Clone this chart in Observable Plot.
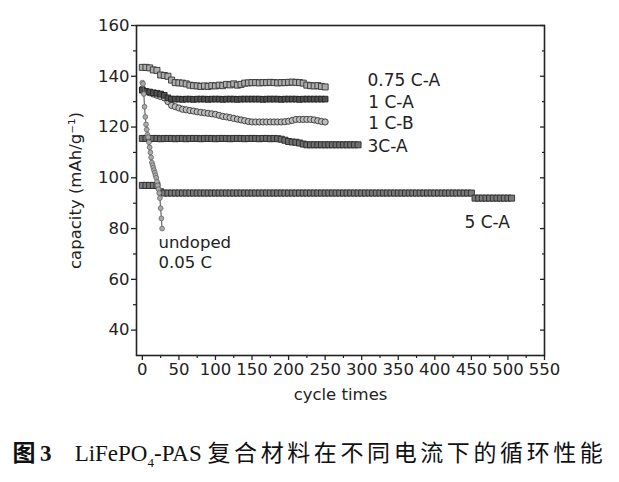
<!DOCTYPE html>
<html><head><meta charset="utf-8">
<script src="https://cdn.jsdelivr.net/npm/d3@7"></script>
<script src="https://cdn.jsdelivr.net/npm/@observablehq/plot@0.6"></script>
<style>
body{margin:0;background:#fff;width:619px;}
#chart svg{display:block;}
#cap{height:62px;box-sizing:border-box;padding-top:20px;text-align:center;white-space:nowrap;
  font-family:"Liberation Serif","Noto Sans CJK SC",serif;font-size:23px;line-height:28px;color:#111;}
#cap .cjk{letter-spacing:3.6px;}
#cap sub{font-size:13px;line-height:0;}
</style></head><body>
<div id="chart"></div>
<div id="cap"><b>图&thinsp;3</b>&nbsp;&nbsp;&nbsp;&nbsp;LiFePO<sub>4</sub>-PAS <span class="cjk">复合材料在不同电流下的循环性能</span></div>
<script>
// Tick values
const xTicks = [0,50,100,150,200,250,300,350,400,450,500,550];
const xMinor = [25,75,125,175,225,275,325,375,425,475,525];
const yTicks = [40,60,80,100,120,140,160];
const yMinor = [50,70,90,110,130,150];

// Series: cycle number (every 5th cycle) and discharge capacity (mAh/g)
const cycles075 = d3.range(0, 251, 5);
const cap075 = [143.5,143.5,143.3,142.5,142.3,140.5,140.3,140,138.5,137.5,
  137.4,137.3,137,136.5,136.3,136.2,136,136.2,136,136.3,
  136.2,136.5,136.3,136.8,136.6,137,136.5,136.8,137.3,137.4,
  137.5,137.5,137.4,137.5,137.5,137.6,137.5,137.4,137.5,137.5,
  137.6,137.7,137.6,137.5,137.3,136.5,136.3,136.2,136.3,136,
  135.8];

const cycles1A = d3.range(0, 251, 5);
const cap1A = [134.5,134,133.8,133.5,133.3,133,132.5,131.5,131,131,
  131,130.9,131,131,130.9,131,131,131,130.9,131,
  131,131,130.9,131,131,131,130.9,131,131,131,
  131,131,131,130.9,131,131,131,131,130.9,131,
  131,131,131,130.9,131,131,131,131,131,131,
  131];

const cycles1B = d3.range(0, 251, 5);
const cap1B = [135,134,133.5,133,132.5,132,131.5,130,128.5,128,
  127.5,127,126.8,126.5,126.3,126,125.8,125.6,125.4,125.2,
  125,124.6,124.2,124,123.7,123.4,123.1,122.8,122.5,122.2,
  122,122,122,122,122,122,122,122,122,122.1,
  122.3,122.6,123,123,123,123,123,122.8,122.5,122.2,
  122];

const cycles3A = d3.range(0, 296, 5);
const cap3A = [115.5,115.5,115.4,115.5,115.5,115.4,115.5,115.5,115.5,115.4,
  115.5,115.5,115.4,115.5,115.5,115.5,115.4,115.5,115.5,115.5,
  115.4,115.5,115.5,115.5,115.4,115.5,115.5,115.5,115.4,115.5,
  115.5,115.5,115.4,115.5,115.5,115.4,115.5,115.4,115.2,114.8,
  114.3,114.1,114,113.7,113.3,113,113,113,113,113,
  113,113,113,113,113,113,113,113,113,113];

const cycles5A = d3.range(0, 506, 5);
const cap5A = [97,97,97,97,97,94.5,94,94,94,94,
  94,94,94,94,94,94,94,94,94,94,
  94,94,94,94,94,94,94,94,94,94,
  94,94,94,94,94,94,94,94,94,94,
  94,94,94,94,94,94,94,94,94,94,
  94,94,94,94,94,94,94,94,94,94,
  94,94,94,94,94,94,94,94,94,94,
  94,94,94,94,94,94,94,94,94,94,
  94,94,94,94,94,94,94,94,94,94,
  94,92,92,92,92,92,92,92,92,92,
  92,92];

const cyclesUndoped = [0,1,2,3,4,5,6,7,8,9,10,11,12,13,14,15,16,17,18,19,20,21,22,23,24,25,26,27];
const capUndoped = [137.5,137,133,128,124,121,119,117,116,114,112,110,108,106,105,104,103,102,101,100,98.5,97,95.5,94,92,88,84,80];

const rows = (cs, vs) => cs.slice(0, vs.length).map((c, i) => ({cycle: c, cap: vs[i]}));
const d075 = rows(cycles075, cap075);
const d1A = rows(cycles1A, cap1A);
const d1B = rows(cycles1B, cap1B);
const d3A = rows(cycles3A, cap3A);
const d5A = rows(cycles5A, cap5A);
const dU = rows(cyclesUndoped, capUndoped);

const ink = "#222";
const labelFont = 17;

const chart = Plot.plot({
  width: 619,
  height: 420,
  marginLeft: 136,
  marginRight: 75,
  marginTop: 25,
  marginBottom: 65,
  style: {fontFamily: "DejaVu Sans", fontSize: "16.5px", color: ink, background: "#fff"},
  x: {domain: [-8, 550]},
  y: {domain: [30, 160]},
  marks: [
    // series
    Plot.line(d5A, {x: "cycle", y: "cap", stroke: "#333", strokeWidth: 1}),
    Plot.dot(d5A, {x: "cycle", y: "cap", symbol: "square", r: 3.4, fill: "#7a7a7a", stroke: "#2a2a2a", strokeWidth: 0.9}),
    Plot.line(d3A, {x: "cycle", y: "cap", stroke: "#333", strokeWidth: 1}),
    Plot.dot(d3A, {x: "cycle", y: "cap", symbol: "square", r: 3.4, fill: "#6e6e6e", stroke: "#2a2a2a", strokeWidth: 0.9}),
    Plot.line(d1B, {x: "cycle", y: "cap", stroke: "#444", strokeWidth: 1}),
    Plot.dot(d1B, {x: "cycle", y: "cap", r: 3.1, fill: "#bdbdbd", stroke: "#383838", strokeWidth: 0.9}),
    Plot.line(d1A, {x: "cycle", y: "cap", stroke: "#333", strokeWidth: 1}),
    Plot.dot(d1A, {x: "cycle", y: "cap", symbol: "square", r: 3.2, fill: "#505050", stroke: "#222", strokeWidth: 0.9}),
    Plot.line(d075, {x: "cycle", y: "cap", stroke: "#444", strokeWidth: 1}),
    Plot.dot(d075, {x: "cycle", y: "cap", symbol: "square", r: 3.4, fill: "#adadad", stroke: "#333", strokeWidth: 0.9}),
    Plot.line(dU, {x: "cycle", y: "cap", stroke: "#666", strokeWidth: 1.2}),
    Plot.dot(dU, {x: "cycle", y: "cap", r: 2.4, fill: "#aaa", stroke: "#666", strokeWidth: 0.8}),
    // annotations
    Plot.text(["0.75 C-A"], {x: 308, y: 138.3, text: d => d, textAnchor: "start", fontSize: labelFont, fill: ink}),
    Plot.text(["1 C-A"], {x: 309, y: 129.8, text: d => d, textAnchor: "start", fontSize: labelFont, fill: ink}),
    Plot.text(["1 C-B"], {x: 309, y: 121.3, text: d => d, textAnchor: "start", fontSize: labelFont, fill: ink}),
    Plot.text(["3C-A"], {x: 308, y: 112.4, text: d => d, textAnchor: "start", fontSize: labelFont, fill: ink}),
    Plot.text(["5 C-A"], {x: 440.6, y: 82.4, text: d => d, textAnchor: "start", fontSize: labelFont, fill: ink}),
    Plot.text(["undoped"], {x: 22, y: 74.3, text: d => d, textAnchor: "start", fontSize: 16.5, fill: ink}),
    Plot.text(["0.05 C"], {x: 22, y: 66.6, text: d => d, textAnchor: "start", fontSize: 16.5, fill: ink}),
    // axes
    Plot.axisY(yTicks, {anchor: "left", tickSize: 5, tickPadding: 2, strokeWidth: 1.3,
      label: "capacity (mAh/g⁻¹)", labelAnchor: "center", labelArrow: "none", labelOffset: 67}),
    Plot.axisY(yMinor, {anchor: "left", tickSize: 3, strokeWidth: 1.2, fill: "none"}),
    Plot.axisY(yTicks, {anchor: "right", tickSize: 5, dx: -5, strokeWidth: 1.3, fill: "none"}),
    Plot.axisY(yMinor, {anchor: "right", tickSize: 3, dx: -3, strokeWidth: 1.2, fill: "none"}),
    Plot.axisX(xTicks, {anchor: "bottom", tickSize: 5, tickPadding: 3, strokeWidth: 1.3,
      label: "cycle times", labelAnchor: "center", labelArrow: "none", labelOffset: 44}),
    Plot.axisX(xMinor, {anchor: "bottom", tickSize: 3, strokeWidth: 1.2, fill: "none"}),
    Plot.frame({stroke: ink, strokeWidth: 1.6})
  ]
});
document.getElementById("chart").append(chart);
</script>
</body></html>
